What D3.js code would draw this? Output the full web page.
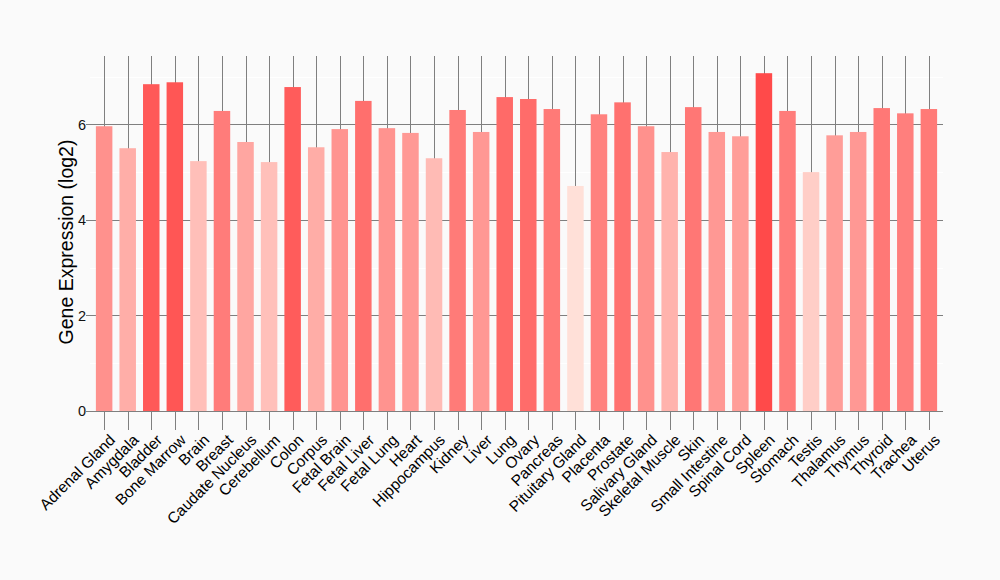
<!DOCTYPE html>
<html><head><meta charset="utf-8">
<script src="https://cdn.jsdelivr.net/npm/d3@7"></script>
<style>
html,body{margin:0;padding:0;background:#fafafa;}
svg{display:block;font-family:"Liberation Sans",Arial,sans-serif;}
</style></head>
<body><svg id="chart" width="1000" height="580"></svg>
<script>
const categories = ["Adrenal Gland","Amygdala","Bladder","Bone Marrow","Brain","Breast","Caudate Nucleus","Cerebellum","Colon","Corpus","Fetal Brain","Fetal Liver","Fetal Lung","Heart","Hippocampus","Kidney","Liver","Lung","Ovary","Pancreas","Pituitary Gland","Placenta","Prostate","Salivary Gland","Skeletal Muscle","Skin","Small Intestine","Spinal Cord","Spleen","Stomach","Testis","Thalamus","Thymus","Thyroid","Trachea","Uterus"];
const values = [5.96,5.50,6.84,6.88,5.23,6.28,5.63,5.21,6.78,5.52,5.90,6.49,5.92,5.82,5.29,6.30,5.84,6.57,6.53,6.32,4.71,6.21,6.46,5.96,5.42,6.36,5.84,5.75,7.07,6.28,5.00,5.77,5.84,6.34,6.23,6.32];
const yTicks = [0,2,4,6];
const yMinor = [1,3,5,7];
const yTitle = "Gene Expression (log2)";

(function(){
const svg = d3.select("#chart");
const pLeft = 90, pRight = 943, pTop = 56, pAxis = 411;

const x = d3.scalePoint().domain(categories).range([pLeft, pRight]).padding(0.6);
const step = x.step();
const y = d3.scaleLinear().domain([0, 7.43]).range([pAxis, pTop]);
const color = d3.scaleLinear().domain([d3.min(values), d3.max(values)])
  .range(["#ffe0d8", "#ff4a4a"]).interpolate(d3.interpolateRgb);

const data = categories.map((c,i)=>({c, v: values[i]}));

svg.append("g").selectAll("line").data(yMinor).join("line")
  .attr("x1", pLeft).attr("x2", pRight)
  .attr("y1", d=>Math.round(y(d))+0.5).attr("y2", d=>Math.round(y(d))+0.5)
  .attr("stroke", "#ffffff").attr("stroke-width", 1);

svg.append("g").selectAll("line").data(yTicks).join("line")
  .attr("x1", pLeft - 4).attr("x2", pRight)
  .attr("y1", d=>Math.round(y(d))+0.5).attr("y2", d=>Math.round(y(d))+0.5)
  .attr("stroke", "#7f7f7f").attr("stroke-width", 1);

svg.append("g").selectAll("line").data(categories).join("line")
  .attr("x1", d=>Math.round(x(d))+0.5).attr("x2", d=>Math.round(x(d))+0.5)
  .attr("y1", pTop).attr("y2", 430)
  .attr("stroke", "#7f7f7f").attr("stroke-width", 1);

const bw = step * 0.7;
svg.append("g").selectAll("rect").data(data).join("rect")
  .attr("x", d=>x(d.c) - bw/2).attr("width", bw)
  .attr("y", d=>y(d.v)).attr("height", d=>y(0) - y(d.v))
  .attr("fill", d=>color(d.v));

svg.append("line").attr("x1", pLeft).attr("x2", pRight)
  .attr("y1", Math.round(y(0))+0.5).attr("y2", Math.round(y(0))+0.5)
  .attr("stroke", "#7f7f7f").attr("stroke-width", 1);

svg.append("g").selectAll("text").data(yTicks).join("text")
  .attr("x", pLeft - 4).attr("y", d=>y(d)).attr("dy", "0.36em")
  .attr("text-anchor", "end").attr("font-size", 14.5).attr("fill", "#111")
  .text(d=>d);

svg.append("text")
  .attr("transform", `translate(73,${(pTop+428)/2}) rotate(-90)`)
  .attr("text-anchor", "middle").attr("font-size", 19.5).attr("fill", "#000")
  .text(yTitle);

svg.append("g").selectAll("text").data(categories).join("text")
  .attr("transform", d=>`translate(${x(d)+12},${441}) rotate(-45)`)
  .attr("text-anchor", "end").attr("font-size", 15.5).attr("fill", "#000")
  .text(d=>d);
})();
</script></body></html>
